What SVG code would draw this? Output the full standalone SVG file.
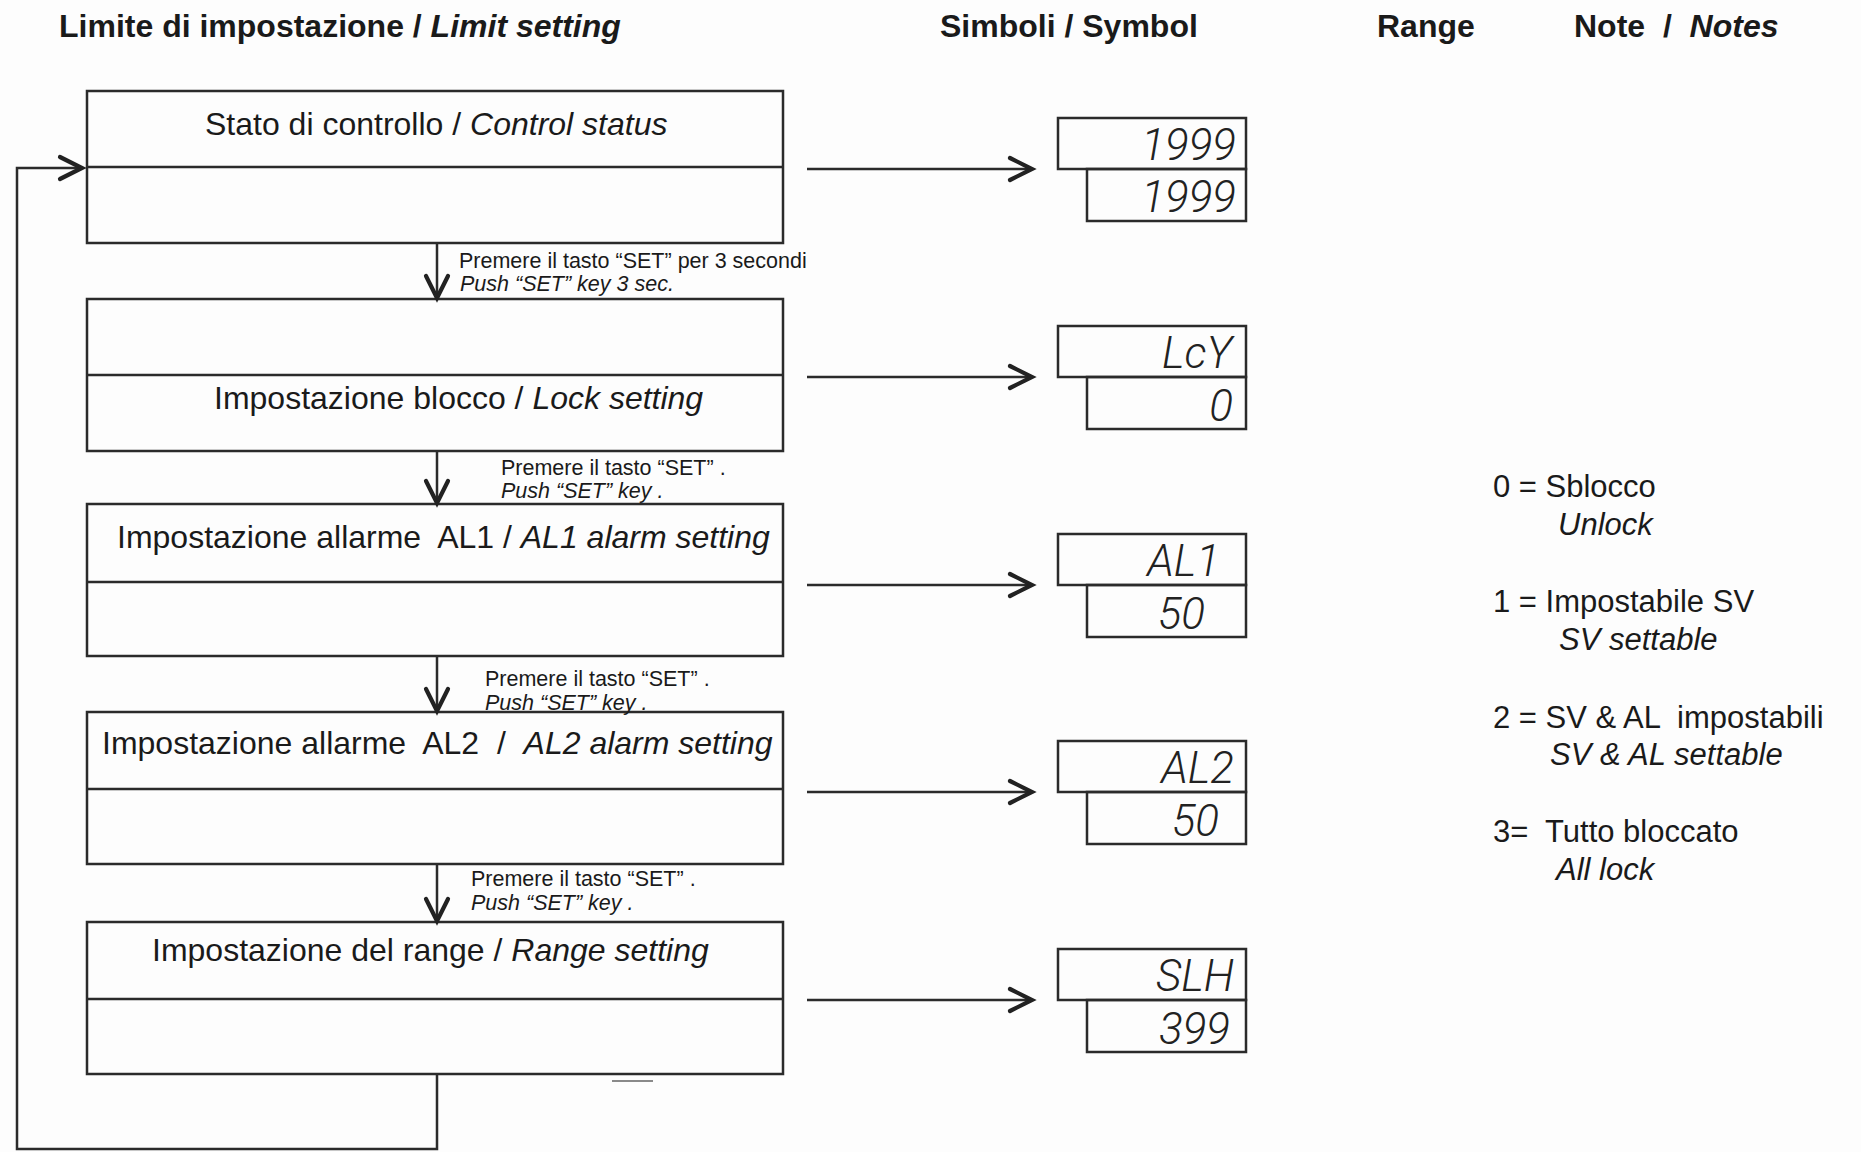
<svg xmlns="http://www.w3.org/2000/svg" width="1861" height="1152" viewBox="0 0 1861 1152">
<defs>
<marker id="arr" markerUnits="userSpaceOnUse" markerWidth="40" markerHeight="40" viewBox="-30 -20 40 40" refX="0" refY="0" orient="auto">
<path d="M -22 -11 L 0 0 L -22 11" fill="none" stroke="#222" stroke-width="4.2" stroke-linecap="round" stroke-linejoin="miter"/>
</marker>
</defs>
<style>
.box{fill:none;stroke:#2b2b2b;stroke-width:2.5}
.dv{stroke:#2b2b2b;stroke-width:2.5}
.t{font-family:"Liberation Sans",Arial,Helvetica,sans-serif;fill:#1a1a1a}
.h{font-weight:bold;font-size:32px}
.bt{font-size:32px}
.lab{font-size:21.5px}
.note{font-size:31px}
.seg{font-family:Roboto,"Liberation Sans",sans-serif;font-weight:300;font-size:44px;font-style:italic;text-anchor:end;fill:#222}
.conn{fill:none;stroke:#2b2b2b;stroke-width:2.5}
.it{font-style:italic}
</style>
<rect x="0" y="0" width="1861" height="1152" fill="#fdfdfd"/>

<g id="headers">
<text class="t h" x="59" y="37">Limite di impostazione / <tspan class="it">Limit setting</tspan></text>
<text class="t h" x="940" y="37">Simboli / Symbol</text>
<text class="t h" x="1377" y="37">Range</text>
<text class="t h" x="1574" y="37" xml:space="preserve">Note  /  <tspan class="it">Notes</tspan></text>
</g>

<g id="node-control-status">
<rect class="box" x="87" y="91" width="696" height="152"/>
<line class="dv" x1="87" y1="167" x2="783" y2="167"/>
<text class="t bt" x="205" y="135">Stato di controllo / <tspan class="it">Control status</tspan></text>
</g>

<g id="node-lock-setting">
<rect class="box" x="87" y="299" width="696" height="152"/>
<line class="dv" x1="87" y1="375" x2="783" y2="375"/>
<text class="t bt" x="214" y="409">Impostazione blocco / <tspan class="it">Lock setting</tspan></text>
</g>

<g id="node-al1">
<rect class="box" x="87" y="504" width="696" height="152"/>
<line class="dv" x1="87" y1="582" x2="783" y2="582"/>
<text class="t bt" x="117" y="548" xml:space="preserve">Impostazione allarme  AL1 / <tspan class="it">AL1 alarm setting</tspan></text>
</g>

<g id="node-al2">
<rect class="box" x="87" y="712" width="696" height="152"/>
<line class="dv" x1="87" y1="789" x2="783" y2="789"/>
<text class="t bt" x="102" y="754" xml:space="preserve">Impostazione allarme  AL2  /  <tspan class="it">AL2 alarm setting</tspan></text>
</g>

<g id="node-range">
<rect class="box" x="87" y="922" width="696" height="152"/>
<line class="dv" x1="87" y1="999" x2="783" y2="999"/>
<text class="t bt" x="152" y="961">Impostazione del range / <tspan class="it">Range setting</tspan></text>
<line x1="612" y1="1081" x2="653" y2="1081" stroke="#8a8a8a" stroke-width="2"/>
</g>

<g id="display-1">
<rect class="box" x="1058" y="118" width="188" height="51"/>
<rect class="box" x="1087" y="169" width="159" height="52"/>
<text class="seg" x="1236" y="160">1999</text>
<text class="seg" x="1236" y="212">1999</text>
</g>

<g id="display-2">
<rect class="box" x="1058" y="326" width="188" height="51"/>
<rect class="box" x="1087" y="377" width="159" height="52"/>
<text class="seg" x="1232" y="368">LcY</text>
<text class="seg" x="1233" y="421">0</text>
</g>

<g id="display-3">
<rect class="box" x="1058" y="534" width="188" height="51"/>
<rect class="box" x="1087" y="585" width="159" height="52"/>
<text class="seg" x="1220" y="576">AL1</text>
<text class="seg" x="1205" y="629">50</text>
</g>

<g id="display-4">
<rect class="box" x="1058" y="741" width="188" height="51"/>
<rect class="box" x="1087" y="792" width="159" height="52"/>
<text class="seg" x="1234" y="783">AL2</text>
<text class="seg" x="1219" y="836">50</text>
</g>

<g id="display-5">
<rect class="box" x="1058" y="949" width="188" height="51"/>
<rect class="box" x="1087" y="1000" width="159" height="52"/>
<text class="seg" x="1234" y="991">SLH</text>
<text class="seg" x="1230" y="1044">399</text>
</g>

<g id="connectors">
<line class="conn" x1="807" y1="169" x2="1032" y2="169" marker-end="url(#arr)"/>
<line class="conn" x1="807" y1="377" x2="1032" y2="377" marker-end="url(#arr)"/>
<line class="conn" x1="807" y1="585" x2="1032" y2="585" marker-end="url(#arr)"/>
<line class="conn" x1="807" y1="792" x2="1032" y2="792" marker-end="url(#arr)"/>
<line class="conn" x1="807" y1="1000" x2="1032" y2="1000" marker-end="url(#arr)"/>
<line class="conn" x1="437" y1="243" x2="437" y2="298" marker-end="url(#arr)"/>
<line class="conn" x1="437" y1="451" x2="437" y2="503" marker-end="url(#arr)"/>
<line class="conn" x1="437" y1="656" x2="437" y2="711" marker-end="url(#arr)"/>
<line class="conn" x1="437" y1="864" x2="437" y2="921" marker-end="url(#arr)"/>
<polyline class="conn" points="437,1074 437,1149 17,1149 17,168 82,168" marker-end="url(#arr)"/>
</g>

<g id="labels">
<text class="t lab" x="459" y="268">Premere il tasto “SET” per 3 secondi</text>
<text class="t lab it" x="460" y="291">Push “SET” key 3 sec.</text>
<text class="t lab" x="501" y="475">Premere il tasto “SET” .</text>
<text class="t lab it" x="501" y="498">Push “SET” key .</text>
<text class="t lab" x="485" y="686">Premere il tasto “SET” .</text>
<text class="t lab it" x="485" y="710">Push “SET” key .</text>
<text class="t lab" x="471" y="886">Premere il tasto “SET” .</text>
<text class="t lab it" x="471" y="910">Push “SET” key .</text>
</g>

<g id="notes">
<text class="t note" x="1493" y="497">0 = Sblocco</text>
<text class="t note it" x="1558" y="535">Unlock</text>
<text class="t note" x="1493" y="612">1 = Impostabile SV</text>
<text class="t note it" x="1559" y="650">SV settable</text>
<text class="t note" x="1493" y="728" xml:space="preserve">2 = SV &amp; AL  impostabili</text>
<text class="t note it" x="1550" y="765">SV &amp; AL settable</text>
<text class="t note" x="1493" y="842" xml:space="preserve">3=  Tutto bloccato</text>
<text class="t note it" x="1556" y="880">All lock</text>
</g>
</svg>
